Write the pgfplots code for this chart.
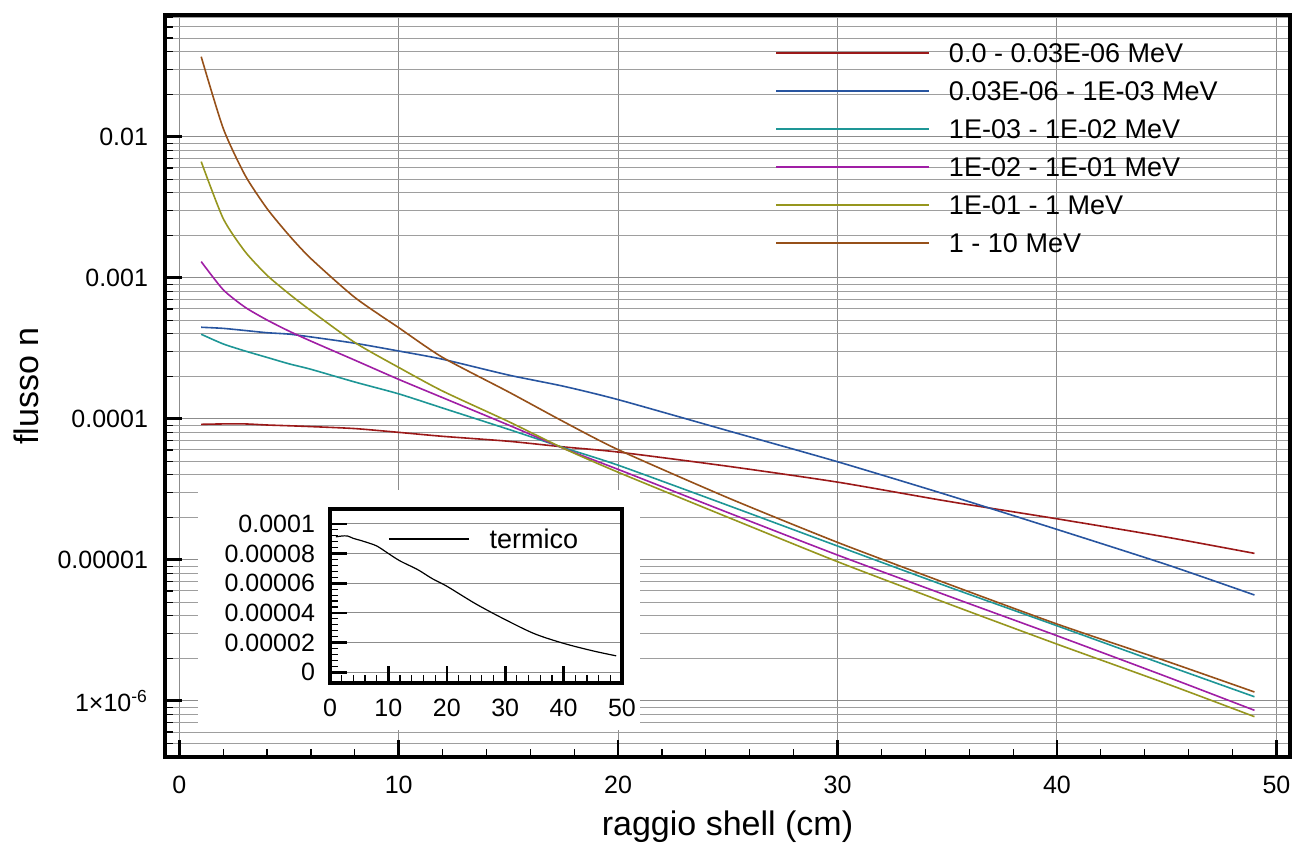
\documentclass[border=0pt]{standalone}
\usepackage{fontspec}
\setmainfont{Liberation Sans}
\usepackage{pgfplots}
\pgfplotsset{compat=1.18}
\usepackage{pgfplotstable}

\definecolor{cRed}{RGB}{155,25,25}
\definecolor{cBlue}{RGB}{40,85,160}
\definecolor{cTeal}{RGB}{30,150,150}
\definecolor{cMag}{RGB}{160,30,165}
\definecolor{cOlive}{RGB}{150,150,30}
\definecolor{cBrown}{RGB}{150,80,25}

% x  red  blue  teal  magenta  olive  brown
\pgfplotstableread{
x    r        b         t         m         o         n
1    9.12e-5  4.45e-4   3.97e-4   1.30e-3   6.65e-3   3.69e-2
2    9.18e-5  4.37e-4   3.39e-4   8.22e-4   2.63e-3   1.148e-2
3    9.18e-5  4.22e-4   3.02e-4   6.17e-4   1.53e-3   5.32e-3
4    9.02e-5  4.07e-4   2.72e-4   5.01e-4   1.04e-3   3.09e-3
5    8.91e-5  3.98e-4   2.45e-4   4.18e-4   7.69e-4   2.00e-3
6    8.79e-5  3.80e-4   2.24e-4   3.55e-4   5.83e-4   1.365e-3
8    8.51e-5  3.43e-4   1.82e-4   2.60e-4   3.47e-4   7.24e-4
10   8.00e-5  3.02e-4   1.50e-4   1.90e-4   2.31e-4   4.42e-4
12   7.50e-5  2.64e-4   1.19e-4   1.41e-4   1.57e-4   2.72e-4
15   6.92e-5  2.04e-4   8.41e-5   9.02e-5   9.55e-5   1.55e-4
17.5 6.31e-5  1.70e-4   6.24e-5   6.17e-5   6.17e-5   9.55e-5
20   5.80e-5  1.365e-4  4.68e-5   4.37e-5   4.17e-5   6.03e-5
25   4.60e-5  8.22e-5   2.43e-5   2.16e-5   2.00e-5   2.75e-5
30   3.55e-5  4.95e-5   1.25e-5   1.079e-5  9.68e-6   1.327e-5
35   2.60e-5  2.88e-5   6.46e-6   5.56e-6   4.90e-6   6.76e-6
40   1.95e-5  1.64e-5   3.40e-6   2.89e-6   2.52e-6   3.50e-6
45   1.445e-5 9.23e-6   1.78e-6   1.48e-6   1.32e-6   1.905e-6
49   1.109e-5 5.62e-6   1.067e-6  8.55e-7   7.71e-7   1.153e-6
}\data

\begin{document}
\begin{tikzpicture}
\path[use as bounding box] (-82.5pt,-43.5pt) rectangle (569.5pt,378.5pt);
\begin{axis}[
  at={(0pt,0pt)}, anchor=south west,
  scale only axis, width=562.5pt, height=371pt,
  xmin=-0.65, xmax=50.62,
  ymode=log, ymin=3.99e-7, ymax=7.29e-2,
  axis line style={line width=1.6pt, line join=miter},
  tick pos=left, tick align=inside,
  xtick={0,10,20,30,40,50}, minor x tick num=4,
  ytick={1e-6,1e-5,1e-4,1e-3,1e-2},
  yticklabels={1×10\textsuperscript{-6},0.00001,0.0001,0.001,0.01},
  minor ytick={4e-7,5e-7,6e-7,7e-7,8e-7,9e-7,
    2e-6,3e-6,4e-6,5e-6,6e-6,7e-6,8e-6,9e-6,
    2e-5,3e-5,4e-5,5e-5,6e-5,7e-5,8e-5,9e-5,
    2e-4,3e-4,4e-4,5e-4,6e-4,7e-4,8e-4,9e-4,
    2e-3,3e-3,4e-3,5e-3,6e-3,7e-3,8e-3,9e-3,
    2e-2,3e-2,4e-2,5e-2,6e-2,7e-2},
  major tick length=8.5pt, minor tick length=4pt,
  major tick style={line width=1.3pt, black},
  minor tick style={line width=0.6pt, black},
  xmajorgrids=true, ymajorgrids=true, yminorgrids=true,
  major grid style={black!45, line width=0.5pt},
  minor grid style={black!38, line width=0.5pt},
  /pgf/number format/assume math mode=true,
  tick label style={font=\fontsize{12.5}{15}\selectfont},
  xticklabel style={yshift=-6pt},
  yticklabel style={xshift=-5pt},
  xlabel={raggio shell (cm)},
  ylabel={flusso n},
  every axis x label/.style={at={(axis description cs:0.5,0)}, anchor=center, yshift=-35pt, font=\fontsize{17}{20}\selectfont},
  every axis y label/.style={at={(axis description cs:-0.1236,0.5)}, rotate=90, anchor=center, font=\fontsize{17}{20}\selectfont},
  legend cell align=left,
  legend image code/.code={\draw[#1] (0pt,0pt) -- (76.5pt,0pt);},
  legend style={at={(axis description cs:0.5422,0.96294)}, anchor=north west,
    draw=none, fill=none, inner sep=0pt, row sep=9pt,
    font=\fontsize{13.5}{16}\selectfont,
    nodes={inner sep=0pt, text height=10pt, text depth=0pt},
    /tikz/every odd column/.append style={column sep=9.5pt}},
  every axis plot/.append style={line width=0.8pt, smooth, tension=0.4},
]
\addplot[cRed]   table[x=x,y=r] {\data};
\addlegendentry{0.0 - 0.03E-06 MeV}
\addplot[cBlue]  table[x=x,y=b] {\data};
\addlegendentry{0.03E-06 - 1E-03 MeV}
\addplot[cTeal]  table[x=x,y=t] {\data};
\addlegendentry{1E-03 - 1E-02 MeV}
\addplot[cMag]   table[x=x,y=m] {\data};
\addlegendentry{1E-02 - 1E-01 MeV}
\addplot[cOlive] table[x=x,y=o] {\data};
\addlegendentry{1E-01 - 1 MeV}
\addplot[cBrown] table[x=x,y=n] {\data};
\addlegendentry{1 - 10 MeV}
\end{axis}

\fill[white] (16.5pt,13.5pt) rectangle (237.5pt,133.5pt);

\begin{axis}[
  at={(82.5pt,37pt)}, anchor=south west,
  scale only axis, width=146pt, height=87pt,
  xmin=0, xmax=50,
  ymin=-7.2e-6, ymax=1.10e-4,
  axis line style={line width=1.6pt, line join=miter},
  tick pos=left, tick align=inside,
  xtick={0,10,20,30,40,50}, minor x tick num=4,
  ytick={0,2e-5,4e-5,6e-5,8e-5,1e-4},
  yticklabels={0,0.00002,0.00004,0.00006,0.00008,0.0001},
  minor y tick num=4,
  scaled y ticks=false,
  major tick length=8.5pt, minor tick length=4pt,
  major tick style={line width=1.3pt, black},
  minor tick style={line width=0.6pt, black},
  ymajorgrids=true,
  major grid style={black!45, line width=0.5pt},
  /pgf/number format/assume math mode=true,
  tick label style={font=\fontsize{12.5}{15}\selectfont},
  xticklabel style={yshift=-4.5pt},
  yticklabel style={xshift=-4pt},
  legend cell align=left,
  legend image code/.code={\draw[#1] (0pt,0pt) -- (40pt,0pt);},
  legend style={at={(axis description cs:0.1986,0.8879)}, anchor=north west,
    draw=none, fill=none, inner sep=0pt,
    font=\fontsize{13.5}{16}\selectfont,
    nodes={inner sep=0pt, text height=10pt, text depth=0pt},
    /tikz/every odd column/.append style={column sep=10pt}},
]
\addplot[black, line width=0.6pt, smooth, tension=0.5] table[x=x,y=r] {\data};
\addlegendentry{termico}
\end{axis}
\end{tikzpicture}
\end{document}
